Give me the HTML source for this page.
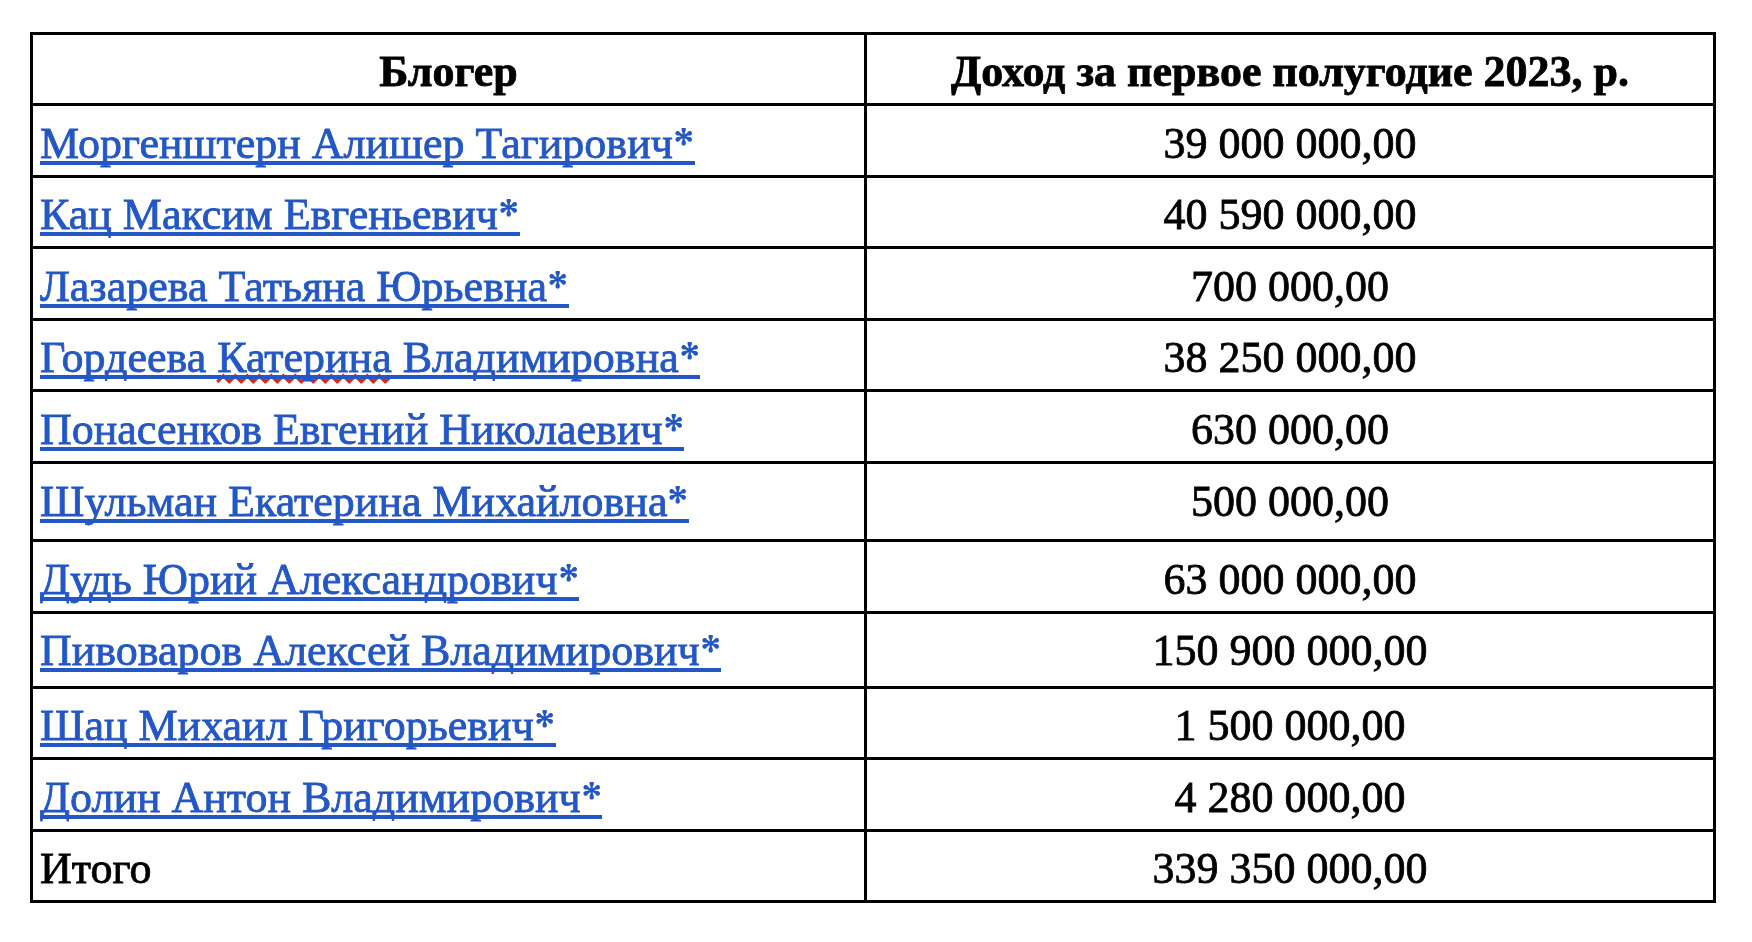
<!DOCTYPE html>
<html><head><meta charset="utf-8"><style>
html,body{margin:0;padding:0;background:#fff;}
body{width:1752px;height:942px;position:relative;overflow:hidden;font-family:"Liberation Serif",serif;font-size:44px;color:#000;}
.h{position:absolute;left:30px;width:1686px;height:3px;background:#000;}
.v{position:absolute;top:32px;height:871px;width:3px;background:#000;}
.t{position:absolute;will-change:transform;line-height:50px;height:50px;white-space:pre;-webkit-text-stroke:0.8px currentColor;}
.n{left:40px;color:#2357c5;}
.nm{position:relative;display:inline-block;}
.nm::after{content:"";position:absolute;left:0;width:var(--uw);top:42px;height:4px;background:#2357c5;}
.ast{vertical-align:baseline;}
.c{left:867px;width:846px;text-align:center;}
.b{font-weight:bold;}
.c1{left:33px;width:831px;text-align:center;}
.sq{position:absolute;}
</style></head><body>
<div class="h" style="top:32px"></div>
<div class="h" style="top:103px"></div>
<div class="h" style="top:175px"></div>
<div class="h" style="top:246px"></div>
<div class="h" style="top:318px"></div>
<div class="h" style="top:389px"></div>
<div class="h" style="top:461px"></div>
<div class="h" style="top:539px"></div>
<div class="h" style="top:611px"></div>
<div class="h" style="top:686px"></div>
<div class="h" style="top:757px"></div>
<div class="h" style="top:829px"></div>
<div class="h" style="top:900px"></div>
<div class="v" style="left:30px"></div>
<div class="v" style="left:864px"></div>
<div class="v" style="left:1713px"></div>
<svg class="sq" style="left:0;top:0" width="1752" height="942"><polyline points="217.3,381.8 223.3,375.8 229.3,381.8 235.3,375.8 241.3,381.8 247.3,375.8 253.3,381.8 259.3,375.8 265.3,381.8 271.3,375.8 277.3,381.8 283.3,375.8 289.3,381.8 295.3,375.8 301.3,381.8 307.3,375.8 313.3,381.8 319.3,375.8 325.3,381.8 331.3,375.8 337.3,381.8 343.3,375.8 349.3,381.8 355.3,375.8 361.3,381.8 367.3,375.8 373.3,381.8 379.3,375.8 385.3,381.8 389.8,377.3" fill="none" stroke="#d22b1f" stroke-width="3.2" stroke-linejoin="miter"/></svg>
<div class="t b c1" style="top:47px">Блогер</div>
<div class="t b c" style="top:47px">Доход за первое полугодие 2023, р.</div>
<div class="t n" style="top:119px"><span class="nm" style="--uw:655px">Моргенштерн Алишер Тагирович<svg class="ast" width="22" height="30" viewBox="0 0 22 30"><g transform="translate(10.7,8.3)" fill="#2357c5"><path d="M-1.1,0 L-1.15,-3.5 C-1.3,-4.7 -2.2,-5.3 -2.2,-6.9 C-2.2,-8.4 -1.3,-9.3 0,-9.3 C1.3,-9.3 2.2,-8.4 2.2,-6.9 C2.2,-5.3 1.3,-4.7 1.15,-3.5 L1.1,0 Z" transform="rotate(0)"/><path d="M-1.1,0 L-1.2,-3.6 C-1.4,-4.8 -2.25,-5.3 -2.25,-6.8 C-2.25,-8.1 -1.3,-9.0 0,-9.0 C1.3,-9.0 2.25,-8.1 2.25,-6.8 C2.25,-5.3 1.4,-4.8 1.2,-3.6 L1.1,0 Z" transform="rotate(63)"/><path d="M-1.1,0 L-1.2,-3.6 C-1.4,-4.8 -2.25,-5.3 -2.25,-6.8 C-2.25,-8.1 -1.3,-9.0 0,-9.0 C1.3,-9.0 2.25,-8.1 2.25,-6.8 C2.25,-5.3 1.4,-4.8 1.2,-3.6 L1.1,0 Z" transform="rotate(117)"/><path d="M-1.1,0 L-1.15,-3.5 C-1.3,-4.7 -2.2,-5.3 -2.2,-6.9 C-2.2,-8.4 -1.3,-9.3 0,-9.3 C1.3,-9.3 2.2,-8.4 2.2,-6.9 C2.2,-5.3 1.3,-4.7 1.15,-3.5 L1.1,0 Z" transform="rotate(180)"/><path d="M-1.1,0 L-1.2,-3.6 C-1.4,-4.8 -2.25,-5.3 -2.25,-6.8 C-2.25,-8.1 -1.3,-9.0 0,-9.0 C1.3,-9.0 2.25,-8.1 2.25,-6.8 C2.25,-5.3 1.4,-4.8 1.2,-3.6 L1.1,0 Z" transform="rotate(243)"/><path d="M-1.1,0 L-1.2,-3.6 C-1.4,-4.8 -2.25,-5.3 -2.25,-6.8 C-2.25,-8.1 -1.3,-9.0 0,-9.0 C1.3,-9.0 2.25,-8.1 2.25,-6.8 C2.25,-5.3 1.4,-4.8 1.2,-3.6 L1.1,0 Z" transform="rotate(297)"/></g></svg></span></div>
<div class="t c" style="top:119px">39 000 000,00</div>
<div class="t n" style="top:190px"><span class="nm" style="--uw:480px">Кац Максим Евгеньевич<svg class="ast" width="22" height="30" viewBox="0 0 22 30"><g transform="translate(10.7,8.3)" fill="#2357c5"><path d="M-1.1,0 L-1.15,-3.5 C-1.3,-4.7 -2.2,-5.3 -2.2,-6.9 C-2.2,-8.4 -1.3,-9.3 0,-9.3 C1.3,-9.3 2.2,-8.4 2.2,-6.9 C2.2,-5.3 1.3,-4.7 1.15,-3.5 L1.1,0 Z" transform="rotate(0)"/><path d="M-1.1,0 L-1.2,-3.6 C-1.4,-4.8 -2.25,-5.3 -2.25,-6.8 C-2.25,-8.1 -1.3,-9.0 0,-9.0 C1.3,-9.0 2.25,-8.1 2.25,-6.8 C2.25,-5.3 1.4,-4.8 1.2,-3.6 L1.1,0 Z" transform="rotate(63)"/><path d="M-1.1,0 L-1.2,-3.6 C-1.4,-4.8 -2.25,-5.3 -2.25,-6.8 C-2.25,-8.1 -1.3,-9.0 0,-9.0 C1.3,-9.0 2.25,-8.1 2.25,-6.8 C2.25,-5.3 1.4,-4.8 1.2,-3.6 L1.1,0 Z" transform="rotate(117)"/><path d="M-1.1,0 L-1.15,-3.5 C-1.3,-4.7 -2.2,-5.3 -2.2,-6.9 C-2.2,-8.4 -1.3,-9.3 0,-9.3 C1.3,-9.3 2.2,-8.4 2.2,-6.9 C2.2,-5.3 1.3,-4.7 1.15,-3.5 L1.1,0 Z" transform="rotate(180)"/><path d="M-1.1,0 L-1.2,-3.6 C-1.4,-4.8 -2.25,-5.3 -2.25,-6.8 C-2.25,-8.1 -1.3,-9.0 0,-9.0 C1.3,-9.0 2.25,-8.1 2.25,-6.8 C2.25,-5.3 1.4,-4.8 1.2,-3.6 L1.1,0 Z" transform="rotate(243)"/><path d="M-1.1,0 L-1.2,-3.6 C-1.4,-4.8 -2.25,-5.3 -2.25,-6.8 C-2.25,-8.1 -1.3,-9.0 0,-9.0 C1.3,-9.0 2.25,-8.1 2.25,-6.8 C2.25,-5.3 1.4,-4.8 1.2,-3.6 L1.1,0 Z" transform="rotate(297)"/></g></svg></span></div>
<div class="t c" style="top:190px">40 590 000,00</div>
<div class="t n" style="top:262px"><span class="nm" style="--uw:529px">Лазарева Татьяна Юрьевна<svg class="ast" width="22" height="30" viewBox="0 0 22 30"><g transform="translate(10.7,8.3)" fill="#2357c5"><path d="M-1.1,0 L-1.15,-3.5 C-1.3,-4.7 -2.2,-5.3 -2.2,-6.9 C-2.2,-8.4 -1.3,-9.3 0,-9.3 C1.3,-9.3 2.2,-8.4 2.2,-6.9 C2.2,-5.3 1.3,-4.7 1.15,-3.5 L1.1,0 Z" transform="rotate(0)"/><path d="M-1.1,0 L-1.2,-3.6 C-1.4,-4.8 -2.25,-5.3 -2.25,-6.8 C-2.25,-8.1 -1.3,-9.0 0,-9.0 C1.3,-9.0 2.25,-8.1 2.25,-6.8 C2.25,-5.3 1.4,-4.8 1.2,-3.6 L1.1,0 Z" transform="rotate(63)"/><path d="M-1.1,0 L-1.2,-3.6 C-1.4,-4.8 -2.25,-5.3 -2.25,-6.8 C-2.25,-8.1 -1.3,-9.0 0,-9.0 C1.3,-9.0 2.25,-8.1 2.25,-6.8 C2.25,-5.3 1.4,-4.8 1.2,-3.6 L1.1,0 Z" transform="rotate(117)"/><path d="M-1.1,0 L-1.15,-3.5 C-1.3,-4.7 -2.2,-5.3 -2.2,-6.9 C-2.2,-8.4 -1.3,-9.3 0,-9.3 C1.3,-9.3 2.2,-8.4 2.2,-6.9 C2.2,-5.3 1.3,-4.7 1.15,-3.5 L1.1,0 Z" transform="rotate(180)"/><path d="M-1.1,0 L-1.2,-3.6 C-1.4,-4.8 -2.25,-5.3 -2.25,-6.8 C-2.25,-8.1 -1.3,-9.0 0,-9.0 C1.3,-9.0 2.25,-8.1 2.25,-6.8 C2.25,-5.3 1.4,-4.8 1.2,-3.6 L1.1,0 Z" transform="rotate(243)"/><path d="M-1.1,0 L-1.2,-3.6 C-1.4,-4.8 -2.25,-5.3 -2.25,-6.8 C-2.25,-8.1 -1.3,-9.0 0,-9.0 C1.3,-9.0 2.25,-8.1 2.25,-6.8 C2.25,-5.3 1.4,-4.8 1.2,-3.6 L1.1,0 Z" transform="rotate(297)"/></g></svg></span></div>
<div class="t c" style="top:262px">700 000,00</div>
<div class="t n" style="top:333px"><span class="nm" style="--uw:660px">Гордеева Катерина Владимировна<svg class="ast" width="22" height="30" viewBox="0 0 22 30"><g transform="translate(10.7,8.3)" fill="#2357c5"><path d="M-1.1,0 L-1.15,-3.5 C-1.3,-4.7 -2.2,-5.3 -2.2,-6.9 C-2.2,-8.4 -1.3,-9.3 0,-9.3 C1.3,-9.3 2.2,-8.4 2.2,-6.9 C2.2,-5.3 1.3,-4.7 1.15,-3.5 L1.1,0 Z" transform="rotate(0)"/><path d="M-1.1,0 L-1.2,-3.6 C-1.4,-4.8 -2.25,-5.3 -2.25,-6.8 C-2.25,-8.1 -1.3,-9.0 0,-9.0 C1.3,-9.0 2.25,-8.1 2.25,-6.8 C2.25,-5.3 1.4,-4.8 1.2,-3.6 L1.1,0 Z" transform="rotate(63)"/><path d="M-1.1,0 L-1.2,-3.6 C-1.4,-4.8 -2.25,-5.3 -2.25,-6.8 C-2.25,-8.1 -1.3,-9.0 0,-9.0 C1.3,-9.0 2.25,-8.1 2.25,-6.8 C2.25,-5.3 1.4,-4.8 1.2,-3.6 L1.1,0 Z" transform="rotate(117)"/><path d="M-1.1,0 L-1.15,-3.5 C-1.3,-4.7 -2.2,-5.3 -2.2,-6.9 C-2.2,-8.4 -1.3,-9.3 0,-9.3 C1.3,-9.3 2.2,-8.4 2.2,-6.9 C2.2,-5.3 1.3,-4.7 1.15,-3.5 L1.1,0 Z" transform="rotate(180)"/><path d="M-1.1,0 L-1.2,-3.6 C-1.4,-4.8 -2.25,-5.3 -2.25,-6.8 C-2.25,-8.1 -1.3,-9.0 0,-9.0 C1.3,-9.0 2.25,-8.1 2.25,-6.8 C2.25,-5.3 1.4,-4.8 1.2,-3.6 L1.1,0 Z" transform="rotate(243)"/><path d="M-1.1,0 L-1.2,-3.6 C-1.4,-4.8 -2.25,-5.3 -2.25,-6.8 C-2.25,-8.1 -1.3,-9.0 0,-9.0 C1.3,-9.0 2.25,-8.1 2.25,-6.8 C2.25,-5.3 1.4,-4.8 1.2,-3.6 L1.1,0 Z" transform="rotate(297)"/></g></svg></span></div>
<div class="t c" style="top:333px">38 250 000,00</div>
<div class="t n" style="top:405px"><span class="nm" style="--uw:644px">Понасенков Евгений Николаевич<svg class="ast" width="22" height="30" viewBox="0 0 22 30"><g transform="translate(10.7,8.3)" fill="#2357c5"><path d="M-1.1,0 L-1.15,-3.5 C-1.3,-4.7 -2.2,-5.3 -2.2,-6.9 C-2.2,-8.4 -1.3,-9.3 0,-9.3 C1.3,-9.3 2.2,-8.4 2.2,-6.9 C2.2,-5.3 1.3,-4.7 1.15,-3.5 L1.1,0 Z" transform="rotate(0)"/><path d="M-1.1,0 L-1.2,-3.6 C-1.4,-4.8 -2.25,-5.3 -2.25,-6.8 C-2.25,-8.1 -1.3,-9.0 0,-9.0 C1.3,-9.0 2.25,-8.1 2.25,-6.8 C2.25,-5.3 1.4,-4.8 1.2,-3.6 L1.1,0 Z" transform="rotate(63)"/><path d="M-1.1,0 L-1.2,-3.6 C-1.4,-4.8 -2.25,-5.3 -2.25,-6.8 C-2.25,-8.1 -1.3,-9.0 0,-9.0 C1.3,-9.0 2.25,-8.1 2.25,-6.8 C2.25,-5.3 1.4,-4.8 1.2,-3.6 L1.1,0 Z" transform="rotate(117)"/><path d="M-1.1,0 L-1.15,-3.5 C-1.3,-4.7 -2.2,-5.3 -2.2,-6.9 C-2.2,-8.4 -1.3,-9.3 0,-9.3 C1.3,-9.3 2.2,-8.4 2.2,-6.9 C2.2,-5.3 1.3,-4.7 1.15,-3.5 L1.1,0 Z" transform="rotate(180)"/><path d="M-1.1,0 L-1.2,-3.6 C-1.4,-4.8 -2.25,-5.3 -2.25,-6.8 C-2.25,-8.1 -1.3,-9.0 0,-9.0 C1.3,-9.0 2.25,-8.1 2.25,-6.8 C2.25,-5.3 1.4,-4.8 1.2,-3.6 L1.1,0 Z" transform="rotate(243)"/><path d="M-1.1,0 L-1.2,-3.6 C-1.4,-4.8 -2.25,-5.3 -2.25,-6.8 C-2.25,-8.1 -1.3,-9.0 0,-9.0 C1.3,-9.0 2.25,-8.1 2.25,-6.8 C2.25,-5.3 1.4,-4.8 1.2,-3.6 L1.1,0 Z" transform="rotate(297)"/></g></svg></span></div>
<div class="t c" style="top:405px">630 000,00</div>
<div class="t n" style="top:477px"><span class="nm" style="--uw:649px">Шульман Екатерина Михайловна<svg class="ast" width="22" height="30" viewBox="0 0 22 30"><g transform="translate(10.7,8.3)" fill="#2357c5"><path d="M-1.1,0 L-1.15,-3.5 C-1.3,-4.7 -2.2,-5.3 -2.2,-6.9 C-2.2,-8.4 -1.3,-9.3 0,-9.3 C1.3,-9.3 2.2,-8.4 2.2,-6.9 C2.2,-5.3 1.3,-4.7 1.15,-3.5 L1.1,0 Z" transform="rotate(0)"/><path d="M-1.1,0 L-1.2,-3.6 C-1.4,-4.8 -2.25,-5.3 -2.25,-6.8 C-2.25,-8.1 -1.3,-9.0 0,-9.0 C1.3,-9.0 2.25,-8.1 2.25,-6.8 C2.25,-5.3 1.4,-4.8 1.2,-3.6 L1.1,0 Z" transform="rotate(63)"/><path d="M-1.1,0 L-1.2,-3.6 C-1.4,-4.8 -2.25,-5.3 -2.25,-6.8 C-2.25,-8.1 -1.3,-9.0 0,-9.0 C1.3,-9.0 2.25,-8.1 2.25,-6.8 C2.25,-5.3 1.4,-4.8 1.2,-3.6 L1.1,0 Z" transform="rotate(117)"/><path d="M-1.1,0 L-1.15,-3.5 C-1.3,-4.7 -2.2,-5.3 -2.2,-6.9 C-2.2,-8.4 -1.3,-9.3 0,-9.3 C1.3,-9.3 2.2,-8.4 2.2,-6.9 C2.2,-5.3 1.3,-4.7 1.15,-3.5 L1.1,0 Z" transform="rotate(180)"/><path d="M-1.1,0 L-1.2,-3.6 C-1.4,-4.8 -2.25,-5.3 -2.25,-6.8 C-2.25,-8.1 -1.3,-9.0 0,-9.0 C1.3,-9.0 2.25,-8.1 2.25,-6.8 C2.25,-5.3 1.4,-4.8 1.2,-3.6 L1.1,0 Z" transform="rotate(243)"/><path d="M-1.1,0 L-1.2,-3.6 C-1.4,-4.8 -2.25,-5.3 -2.25,-6.8 C-2.25,-8.1 -1.3,-9.0 0,-9.0 C1.3,-9.0 2.25,-8.1 2.25,-6.8 C2.25,-5.3 1.4,-4.8 1.2,-3.6 L1.1,0 Z" transform="rotate(297)"/></g></svg></span></div>
<div class="t c" style="top:477px">500 000,00</div>
<div class="t n" style="top:555px"><span class="nm" style="--uw:539px">Дудь Юрий Александрович<svg class="ast" width="22" height="30" viewBox="0 0 22 30"><g transform="translate(10.7,8.3)" fill="#2357c5"><path d="M-1.1,0 L-1.15,-3.5 C-1.3,-4.7 -2.2,-5.3 -2.2,-6.9 C-2.2,-8.4 -1.3,-9.3 0,-9.3 C1.3,-9.3 2.2,-8.4 2.2,-6.9 C2.2,-5.3 1.3,-4.7 1.15,-3.5 L1.1,0 Z" transform="rotate(0)"/><path d="M-1.1,0 L-1.2,-3.6 C-1.4,-4.8 -2.25,-5.3 -2.25,-6.8 C-2.25,-8.1 -1.3,-9.0 0,-9.0 C1.3,-9.0 2.25,-8.1 2.25,-6.8 C2.25,-5.3 1.4,-4.8 1.2,-3.6 L1.1,0 Z" transform="rotate(63)"/><path d="M-1.1,0 L-1.2,-3.6 C-1.4,-4.8 -2.25,-5.3 -2.25,-6.8 C-2.25,-8.1 -1.3,-9.0 0,-9.0 C1.3,-9.0 2.25,-8.1 2.25,-6.8 C2.25,-5.3 1.4,-4.8 1.2,-3.6 L1.1,0 Z" transform="rotate(117)"/><path d="M-1.1,0 L-1.15,-3.5 C-1.3,-4.7 -2.2,-5.3 -2.2,-6.9 C-2.2,-8.4 -1.3,-9.3 0,-9.3 C1.3,-9.3 2.2,-8.4 2.2,-6.9 C2.2,-5.3 1.3,-4.7 1.15,-3.5 L1.1,0 Z" transform="rotate(180)"/><path d="M-1.1,0 L-1.2,-3.6 C-1.4,-4.8 -2.25,-5.3 -2.25,-6.8 C-2.25,-8.1 -1.3,-9.0 0,-9.0 C1.3,-9.0 2.25,-8.1 2.25,-6.8 C2.25,-5.3 1.4,-4.8 1.2,-3.6 L1.1,0 Z" transform="rotate(243)"/><path d="M-1.1,0 L-1.2,-3.6 C-1.4,-4.8 -2.25,-5.3 -2.25,-6.8 C-2.25,-8.1 -1.3,-9.0 0,-9.0 C1.3,-9.0 2.25,-8.1 2.25,-6.8 C2.25,-5.3 1.4,-4.8 1.2,-3.6 L1.1,0 Z" transform="rotate(297)"/></g></svg></span></div>
<div class="t c" style="top:555px">63 000 000,00</div>
<div class="t n" style="top:626px"><span class="nm" style="--uw:681px">Пивоваров Алексей Владимирович<svg class="ast" width="22" height="30" viewBox="0 0 22 30"><g transform="translate(10.7,8.3)" fill="#2357c5"><path d="M-1.1,0 L-1.15,-3.5 C-1.3,-4.7 -2.2,-5.3 -2.2,-6.9 C-2.2,-8.4 -1.3,-9.3 0,-9.3 C1.3,-9.3 2.2,-8.4 2.2,-6.9 C2.2,-5.3 1.3,-4.7 1.15,-3.5 L1.1,0 Z" transform="rotate(0)"/><path d="M-1.1,0 L-1.2,-3.6 C-1.4,-4.8 -2.25,-5.3 -2.25,-6.8 C-2.25,-8.1 -1.3,-9.0 0,-9.0 C1.3,-9.0 2.25,-8.1 2.25,-6.8 C2.25,-5.3 1.4,-4.8 1.2,-3.6 L1.1,0 Z" transform="rotate(63)"/><path d="M-1.1,0 L-1.2,-3.6 C-1.4,-4.8 -2.25,-5.3 -2.25,-6.8 C-2.25,-8.1 -1.3,-9.0 0,-9.0 C1.3,-9.0 2.25,-8.1 2.25,-6.8 C2.25,-5.3 1.4,-4.8 1.2,-3.6 L1.1,0 Z" transform="rotate(117)"/><path d="M-1.1,0 L-1.15,-3.5 C-1.3,-4.7 -2.2,-5.3 -2.2,-6.9 C-2.2,-8.4 -1.3,-9.3 0,-9.3 C1.3,-9.3 2.2,-8.4 2.2,-6.9 C2.2,-5.3 1.3,-4.7 1.15,-3.5 L1.1,0 Z" transform="rotate(180)"/><path d="M-1.1,0 L-1.2,-3.6 C-1.4,-4.8 -2.25,-5.3 -2.25,-6.8 C-2.25,-8.1 -1.3,-9.0 0,-9.0 C1.3,-9.0 2.25,-8.1 2.25,-6.8 C2.25,-5.3 1.4,-4.8 1.2,-3.6 L1.1,0 Z" transform="rotate(243)"/><path d="M-1.1,0 L-1.2,-3.6 C-1.4,-4.8 -2.25,-5.3 -2.25,-6.8 C-2.25,-8.1 -1.3,-9.0 0,-9.0 C1.3,-9.0 2.25,-8.1 2.25,-6.8 C2.25,-5.3 1.4,-4.8 1.2,-3.6 L1.1,0 Z" transform="rotate(297)"/></g></svg></span></div>
<div class="t c" style="top:626px">150 900 000,00</div>
<div class="t n" style="top:701px"><span class="nm" style="--uw:516px">Шац Михаил Григорьевич<svg class="ast" width="22" height="30" viewBox="0 0 22 30"><g transform="translate(10.7,8.3)" fill="#2357c5"><path d="M-1.1,0 L-1.15,-3.5 C-1.3,-4.7 -2.2,-5.3 -2.2,-6.9 C-2.2,-8.4 -1.3,-9.3 0,-9.3 C1.3,-9.3 2.2,-8.4 2.2,-6.9 C2.2,-5.3 1.3,-4.7 1.15,-3.5 L1.1,0 Z" transform="rotate(0)"/><path d="M-1.1,0 L-1.2,-3.6 C-1.4,-4.8 -2.25,-5.3 -2.25,-6.8 C-2.25,-8.1 -1.3,-9.0 0,-9.0 C1.3,-9.0 2.25,-8.1 2.25,-6.8 C2.25,-5.3 1.4,-4.8 1.2,-3.6 L1.1,0 Z" transform="rotate(63)"/><path d="M-1.1,0 L-1.2,-3.6 C-1.4,-4.8 -2.25,-5.3 -2.25,-6.8 C-2.25,-8.1 -1.3,-9.0 0,-9.0 C1.3,-9.0 2.25,-8.1 2.25,-6.8 C2.25,-5.3 1.4,-4.8 1.2,-3.6 L1.1,0 Z" transform="rotate(117)"/><path d="M-1.1,0 L-1.15,-3.5 C-1.3,-4.7 -2.2,-5.3 -2.2,-6.9 C-2.2,-8.4 -1.3,-9.3 0,-9.3 C1.3,-9.3 2.2,-8.4 2.2,-6.9 C2.2,-5.3 1.3,-4.7 1.15,-3.5 L1.1,0 Z" transform="rotate(180)"/><path d="M-1.1,0 L-1.2,-3.6 C-1.4,-4.8 -2.25,-5.3 -2.25,-6.8 C-2.25,-8.1 -1.3,-9.0 0,-9.0 C1.3,-9.0 2.25,-8.1 2.25,-6.8 C2.25,-5.3 1.4,-4.8 1.2,-3.6 L1.1,0 Z" transform="rotate(243)"/><path d="M-1.1,0 L-1.2,-3.6 C-1.4,-4.8 -2.25,-5.3 -2.25,-6.8 C-2.25,-8.1 -1.3,-9.0 0,-9.0 C1.3,-9.0 2.25,-8.1 2.25,-6.8 C2.25,-5.3 1.4,-4.8 1.2,-3.6 L1.1,0 Z" transform="rotate(297)"/></g></svg></span></div>
<div class="t c" style="top:701px">1 500 000,00</div>
<div class="t n" style="top:773px"><span class="nm" style="--uw:562px">Долин Антон Владимирович<svg class="ast" width="22" height="30" viewBox="0 0 22 30"><g transform="translate(10.7,8.3)" fill="#2357c5"><path d="M-1.1,0 L-1.15,-3.5 C-1.3,-4.7 -2.2,-5.3 -2.2,-6.9 C-2.2,-8.4 -1.3,-9.3 0,-9.3 C1.3,-9.3 2.2,-8.4 2.2,-6.9 C2.2,-5.3 1.3,-4.7 1.15,-3.5 L1.1,0 Z" transform="rotate(0)"/><path d="M-1.1,0 L-1.2,-3.6 C-1.4,-4.8 -2.25,-5.3 -2.25,-6.8 C-2.25,-8.1 -1.3,-9.0 0,-9.0 C1.3,-9.0 2.25,-8.1 2.25,-6.8 C2.25,-5.3 1.4,-4.8 1.2,-3.6 L1.1,0 Z" transform="rotate(63)"/><path d="M-1.1,0 L-1.2,-3.6 C-1.4,-4.8 -2.25,-5.3 -2.25,-6.8 C-2.25,-8.1 -1.3,-9.0 0,-9.0 C1.3,-9.0 2.25,-8.1 2.25,-6.8 C2.25,-5.3 1.4,-4.8 1.2,-3.6 L1.1,0 Z" transform="rotate(117)"/><path d="M-1.1,0 L-1.15,-3.5 C-1.3,-4.7 -2.2,-5.3 -2.2,-6.9 C-2.2,-8.4 -1.3,-9.3 0,-9.3 C1.3,-9.3 2.2,-8.4 2.2,-6.9 C2.2,-5.3 1.3,-4.7 1.15,-3.5 L1.1,0 Z" transform="rotate(180)"/><path d="M-1.1,0 L-1.2,-3.6 C-1.4,-4.8 -2.25,-5.3 -2.25,-6.8 C-2.25,-8.1 -1.3,-9.0 0,-9.0 C1.3,-9.0 2.25,-8.1 2.25,-6.8 C2.25,-5.3 1.4,-4.8 1.2,-3.6 L1.1,0 Z" transform="rotate(243)"/><path d="M-1.1,0 L-1.2,-3.6 C-1.4,-4.8 -2.25,-5.3 -2.25,-6.8 C-2.25,-8.1 -1.3,-9.0 0,-9.0 C1.3,-9.0 2.25,-8.1 2.25,-6.8 C2.25,-5.3 1.4,-4.8 1.2,-3.6 L1.1,0 Z" transform="rotate(297)"/></g></svg></span></div>
<div class="t c" style="top:773px">4 280 000,00</div>
<div class="t" style="left:40px;top:844px">Итого</div>
<div class="t c" style="top:844px">339 350 000,00</div>
</body></html>
